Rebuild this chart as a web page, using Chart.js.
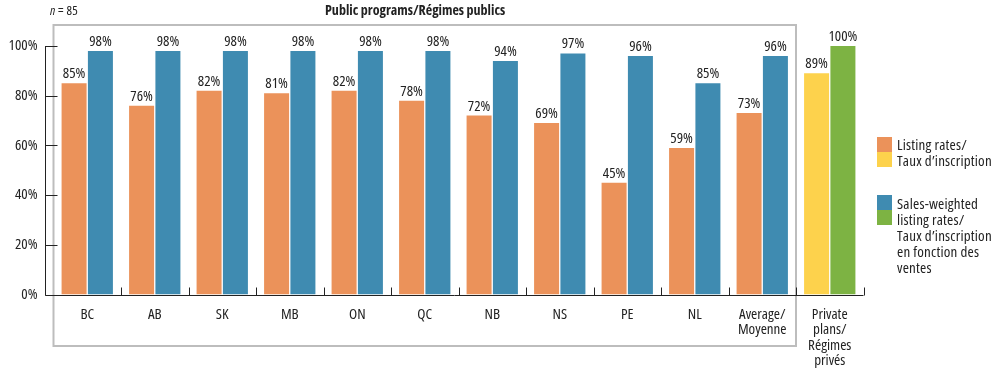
<!DOCTYPE html>
<html><head><meta charset="utf-8">
<script src="https://cdn.jsdelivr.net/npm/chart.js@4/dist/chart.umd.min.js"></script>
<style>
html,body{margin:0;padding:0;background:#fff;}
#wrap{position:relative;width:1001px;height:371px;font-family:"Open Sans",sans-serif;font-stretch:75%;color:#222;}
canvas{position:absolute;left:0;top:0;}
.t{position:absolute;white-space:nowrap;font-size:15px;line-height:16px;letter-spacing:0.2px;}
.sw{position:absolute;width:15px;height:15px;}
</style></head><body>
<div id="wrap">
<canvas id="c" width="1001" height="371"></canvas>
<div class="t" style="left:50px;top:2px;font-size:13px;"><i>n</i> = 85</div>
<div class="t" style="left:325px;top:2px;font-size:14px;font-weight:bold;letter-spacing:0;">Public programs/Régimes publics</div>
<div class="sw" style="left:877px;top:137px;background:#EB925A;"></div>
<div class="sw" style="left:877px;top:152px;background:#FDD24C;"></div>
<div class="t" style="left:897px;top:136px;">Listing rates/<br>Taux d’inscription</div>
<div class="sw" style="left:877px;top:195px;background:#3F8BB1;"></div>
<div class="sw" style="left:877px;top:210px;background:#7DB343;"></div>
<div class="t" style="left:897px;top:195px;">Sales-weighted<br>listing rates/<br>Taux d’inscription<br>en fonction des<br>ventes</div>
</div>
<script>
const categories = ['BC','AB','SK','MB','ON','QC','NB','NS','PE','NL',['Average/','Moyenne'],['Private','plans/','Régimes','privés']];
const listingRates = [85,76,82,81,82,78,72,69,45,59,73,89];
const salesWeighted = [98,98,98,98,98,98,94,97,96,85,96,100];
const yTicks = [0,20,40,60,80,100];
const ORANGE='#EB925A', BLUE='#3F8BB1', YELLOW='#FDD24C', GREEN='#7DB343';
const FAMILY = '"Open Sans",sans-serif';
const STRETCH = 'condensed';
const listingColors = categories.map((c,i)=> i===categories.length-1 ? YELLOW : ORANGE);
const salesColors = categories.map((c,i)=> i===categories.length-1 ? GREEN : BLUE);

// make every font the chart sets on its canvas condensed
const canvasEl = document.getElementById('c');
const ctx2d = canvasEl.getContext('2d');
ctx2d.letterSpacing = '0.3px';
const fontDesc = Object.getOwnPropertyDescriptor(CanvasRenderingContext2D.prototype,'font');
Object.defineProperty(ctx2d,'font',{
  configurable:true,
  get(){return fontDesc.get.call(this);},
  set(v){fontDesc.set.call(this, /condensed/.test(v) ? v : STRETCH+' '+v);}
});

const deco = {
  id:'deco',
  beforeDatasetsDraw(chart){
    const ctx=chart.ctx, x=chart.scales.x;
    const half=(x.getPixelForValue(1)-x.getPixelForValue(0))/2;
    ctx.save();
    ctx.strokeStyle='#BDBDBD'; ctx.lineWidth=2;
    const bl=x.getPixelForValue(0)-half, br=x.getPixelForValue(10)+half;
    ctx.strokeRect(bl,25,br-bl,321);
    ctx.restore();
  },
  afterDatasetsDraw(chart){
    const ctx=chart.ctx, x=chart.scales.x, y=chart.scales.y;
    const half=(x.getPixelForValue(1)-x.getPixelForValue(0))/2;
    const y0=Math.round(y.getPixelForValue(0))+0.5, y100=y.getPixelForValue(100);
    const ax=45.5;
    ctx.save();
    ctx.strokeStyle='#222'; ctx.lineWidth=1;
    ctx.beginPath();
    ctx.moveTo(ax,y100); ctx.lineTo(ax,y0);
    ctx.moveTo(ax,y0); ctx.lineTo(x.getPixelForValue(categories.length-1)+half,y0);
    yTicks.forEach(v=>{const py=Math.round(y.getPixelForValue(v))+0.5; ctx.moveTo(ax,py); ctx.lineTo(ax+12,py);});
    for(let i=0;i<categories.length;i++){
      const px=Math.round(x.getPixelForValue(i)+half)+0.5;
      ctx.moveTo(px,y0); ctx.lineTo(px,y0-8);
    }
    ctx.stroke();
    ctx.fillStyle='#222'; ctx.font=STRETCH+' 15px '+FAMILY; ctx.textAlign='center'; ctx.textBaseline='alphabetic';
    chart.data.datasets.forEach((ds,di)=>{
      chart.getDatasetMeta(di).data.forEach((bar,i)=>{
        ctx.fillText(ds.data[i]+'%', bar.x, bar.y-5);
      });
    });
    ctx.restore();
  }
};

new Chart(canvasEl,{
  type:'bar',
  data:{labels:categories,datasets:[
    {label:'Listing rates/Taux d’inscription',data:listingRates,backgroundColor:listingColors,categoryPercentage:0.78,barPercentage:0.95},
    {label:'Sales-weighted listing rates/Taux d’inscription en fonction des ventes',data:salesWeighted,backgroundColor:salesColors,categoryPercentage:0.78,barPercentage:0.95}
  ]},
  options:{
    responsive:false,animation:false,
    layout:{padding:{top:46,right:137.5,bottom:0,left:0}},
    plugins:{legend:{display:false},tooltip:{enabled:false}},
    scales:{
      x:{
        grid:{display:false,drawTicks:false},border:{display:false},
        ticks:{color:'#222',font:{family:FAMILY,size:15,lineHeight:1.04},padding:12,maxRotation:0,autoSkip:false},
        afterFit(s){s.height=76.5;}
      },
      y:{
        min:0,max:100,
        afterBuildTicks(s){s.ticks=yTicks.map(v=>({value:v}));},
        grid:{display:false,drawTicks:false},border:{display:false},
        ticks:{color:'#222',font:{family:FAMILY,size:15},padding:16,callback:v=>v+'%'},
        afterFit(s){s.width=53.5;}
      }
    }
  },
  plugins:[deco]
});
</script>
</body></html>
